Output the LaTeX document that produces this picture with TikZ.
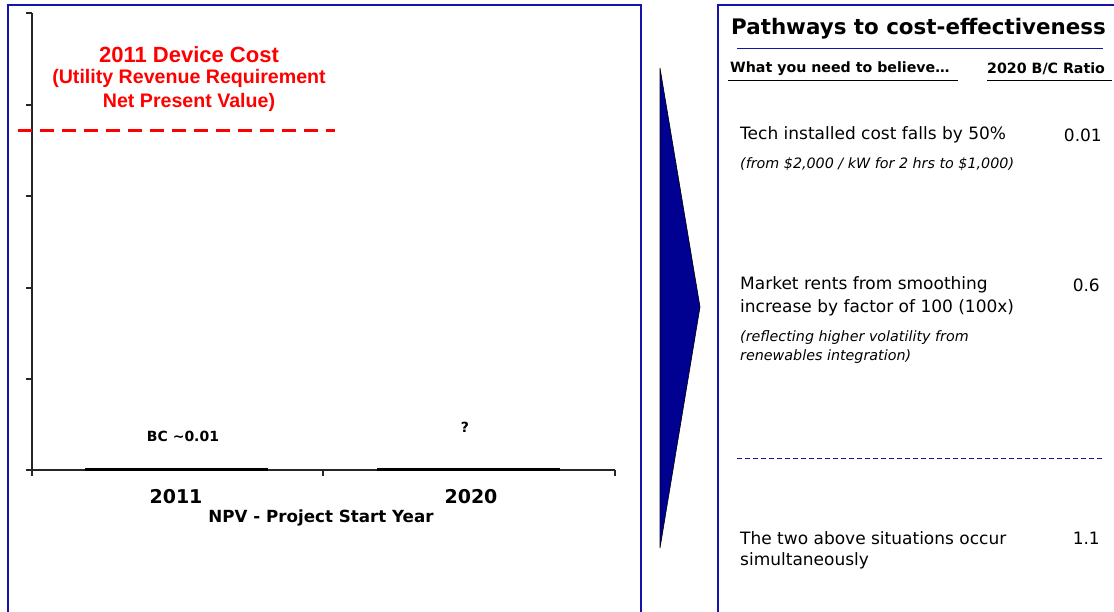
\documentclass[tikz,border=0pt]{standalone}
\usepackage{fontspec}
\setmainfont{Liberation Sans}
\newfontfamily\tah{DejaVu Sans}
\definecolor{panelblue}{RGB}{20,20,170}
\definecolor{arrowblue}{RGB}{0,0,145}
\definecolor{dred}{RGB}{255,0,0}
\begin{document}
\begin{tikzpicture}[x=1pt,y=-1pt,
  panel/.style={draw=panelblue,line width=2pt},
  axisline/.style={draw=black!85,line width=1.4pt},
  lbl/.style={inner sep=0pt},
  red/.style={inner sep=0pt,text=dred},
  txt/.style={inner sep=0pt,anchor=west,font=\tah\fontsize{17}{20}\selectfont},
  val/.style={inner sep=0pt,anchor=east,font=\tah\fontsize{17}{20}\selectfont},
  itx/.style={inner sep=0pt,anchor=west,font=\tah\itshape\fontsize{14.3}{17}\selectfont},
  hdr/.style={inner sep=0pt,anchor=west,font=\tah\bfseries\fontsize{14.2}{17}\selectfont}]
\useasboundingbox (0,0) rectangle (1114,611);
\fill[white] (0,0) rectangle (1114,611);
% panels
\draw[panel] (8,620) -- (8,5) -- (641,5) -- (641,620);
\draw[panel] (718,620) -- (718,5) -- (1125,5);
% y axis
\draw[axisline] (32,13) -- (32,470);
\foreach \y in {13,105,196,288,379,470} \draw[axisline] (26,\y) -- (32,\y);
% x axis
\draw[axisline] (26,470) -- (615,470);
\foreach \x in {32,323,615} \draw[axisline] (\x,470) -- (\x,476);
% bars
\fill[black] (85,468) rectangle (268,471);
\fill[black] (377,468) rectangle (560,471);
% red dashed line
\draw[dred,line width=3pt,dash pattern=on 14pt off 8pt] (18,130) -- (335,130);
\node[red,font=\bfseries\fontsize{22}{25}\selectfont] (t1) at (189,55) {2011 Device Cost};
\node[red,font=\bfseries\fontsize{19.6}{22}\selectfont] (t2) at (189,78) {(Utility Revenue Requirement};
\node[red,font=\bfseries\fontsize{19.6}{22}\selectfont] (t3) at (189,102) {Net Present Value)};
% chart labels
\node[lbl,font=\tah\bfseries\fontsize{14}{16}\selectfont] (bc) at (183,436) {BC \textasciitilde0.01};
\node[lbl,font=\tah\bfseries\fontsize{14}{16}\selectfont] (q) at (465,427) {?};
\node[lbl,font=\tah\bfseries\fontsize{19}{21}\selectfont] (y1) at (176,497) {2011};
\node[lbl,font=\tah\bfseries\fontsize{19}{21}\selectfont] (y2) at (471,497) {2020};
\node[lbl,font=\tah\bfseries\fontsize{16.7}{19}\selectfont] (npv) at (321,518) {NPV - Project Start Year};
% chevron arrow
\filldraw[fill=arrowblue,draw=black,line width=0.6pt] (660,68) -- (700,307) -- (660,548) -- cycle;
% right panel
\node[inner sep=0pt,anchor=west,font=\tah\bfseries\fontsize{21.4}{25}\selectfont] (title) at (731,29) {Pathways to cost-effectiveness};
\draw[panelblue,line width=1pt] (737,48) -- (1103,48);
\node[hdr] (h1) at (730,69) {What you need to believe\ldots};
\node[hdr] (h2) at (987,69) {2020 B/C Ratio};
\draw[black,line width=0.9pt] (728,80) -- (958,80);
\draw[black,line width=0.9pt] (987,80) -- (1112,80);
\node[txt] (a1) at (740,135) {Tech installed cost falls by 50\%};
\node[val] (v1) at (1102,135) {0.01};
\node[itx] (a2) at (740,164) {(from \$2,000 / kW for 2 hrs to \$1,000)};
\node[txt] (b1) at (740,285) {Market rents from smoothing};
\node[txt] (b2) at (740,308) {increase by factor of 100 (100x)};
\node[val] (v2) at (1100,285) {0.6};
\node[itx] (b3) at (740,338) {(reflecting higher volatility from};
\node[itx] (b4) at (740,357) {renewables integration)};
\draw[panelblue,line width=0.8pt,dash pattern=on 5pt off 3pt] (737,458) -- (1103,458);
\node[txt] (c1) at (740,538) {The two above situations occur};
\node[txt] (c2) at (740,561) {simultaneously};
\node[val] (v3) at (1100,538) {1.1};
\end{tikzpicture}
\end{document}
